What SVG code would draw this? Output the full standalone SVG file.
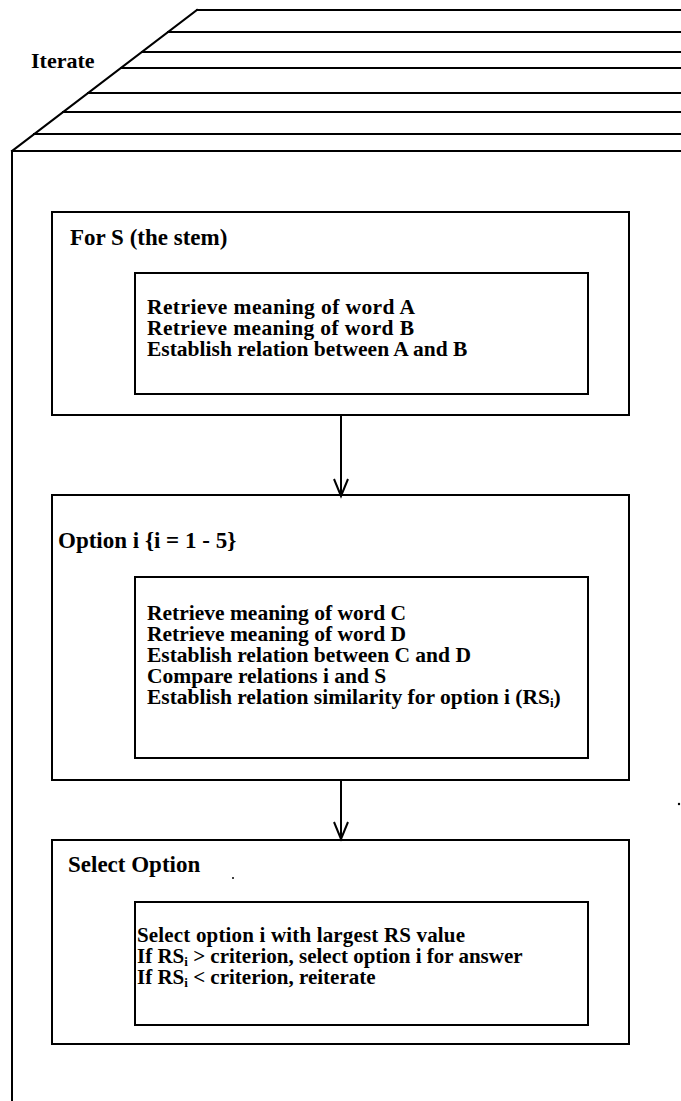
<svg xmlns="http://www.w3.org/2000/svg" width="681" height="1101" viewBox="0 0 681 1101">
<style>
.ln{stroke:#000;stroke-width:2;fill:none;stroke-linecap:square}
.box{stroke:#000;stroke-width:2;fill:none}
.t{font-family:"Liberation Serif","Times New Roman",serif;font-weight:bold;font-size:22px;fill:#000}
.h{font-family:"Liberation Serif","Times New Roman",serif;font-weight:bold;font-size:23px;fill:#000}
.b{font-family:"Liberation Serif","Times New Roman",serif;font-weight:bold;font-size:21.5px;fill:#000}
.s{font-family:"Liberation Serif","Times New Roman",serif;font-weight:bold;font-size:21px;fill:#000}
.sub{font-size:13px}
.con{stroke:#000;stroke-width:2;fill:none}
</style>
<defs>
<marker id="vhead" markerUnits="userSpaceOnUse" viewBox="-19 -9 21 18" markerWidth="21" markerHeight="18" refX="0" refY="0" orient="auto" overflow="visible">
<path d="M-17,-7 L0,0 L-17,7" fill="none" stroke="#000" stroke-width="2"/>
</marker>
</defs>
<rect width="681" height="1101" fill="#fff"/>
<g id="iterate">
<text class="t" x="31" y="68">Iterate</text>
<path class="ln" d="M197,10 L12,151"/>
<path class="ln" d="M197,10 H681 M168,32 H681 M142,52 H681 M121,68 H681 M88,93 H681 M63,112 H681 M34,134 H681"/>
<path class="ln" d="M681,151 H12 V1101"/>
</g>
<g id="node-stem">
<rect class="box" x="52" y="212" width="577" height="203"/>
<text class="h" x="70" y="245">For S (the stem)</text>
<rect class="box" x="135" y="273" width="453" height="121"/>
<text class="b" x="147" y="314" textLength="268">Retrieve meaning of word A</text>
<text class="b" x="147" y="335" textLength="267">Retrieve meaning of word B</text>
<text class="b" x="147" y="356">Establish relation between A and B</text>
</g>
<g id="node-option">
<rect class="box" x="52" y="495" width="577" height="285"/>
<text class="h" x="58" y="548">Option i {i = 1 - 5}</text>
<rect class="box" x="135" y="577" width="453" height="181"/>
<text class="b" x="147" y="620">Retrieve meaning of word C</text>
<text class="b" x="147" y="641">Retrieve meaning of word D</text>
<text class="b" x="147" y="662">Establish relation between C and D</text>
<text class="b" x="147" y="683">Compare relations i and S</text>
<text class="b" x="147" y="704">Establish relation similarity for option i (RS<tspan class="sub" dy="3">i</tspan><tspan dy="-3">)</tspan></text>
</g>
<g id="node-select">
<rect class="box" x="52" y="840" width="577" height="204"/>
<text class="h" x="68" y="872">Select Option</text>
<rect class="box" x="135" y="902" width="453" height="123"/>
<text class="s" x="137" y="942" textLength="328">Select option i with largest RS value</text>
<text class="s" x="137" y="963">If RS<tspan class="sub" dy="3">i</tspan><tspan dy="-3"> &gt; criterion, select option i for answer</tspan></text>
<text class="s" x="137" y="984">If RS<tspan class="sub" dy="3">i</tspan><tspan dy="-3"> &lt; criterion, reiterate</tspan></text>
</g>
<g id="connectors">
<path class="con" d="M341,415 V496" marker-end="url(#vhead)"/>
<path class="con" d="M341,780 V839" marker-end="url(#vhead)"/>
</g>
<g id="specks">
<circle cx="679" cy="804" r="1.2" fill="#000"/>
<circle cx="233" cy="878" r="1" fill="#000"/>
</g>
</svg>
